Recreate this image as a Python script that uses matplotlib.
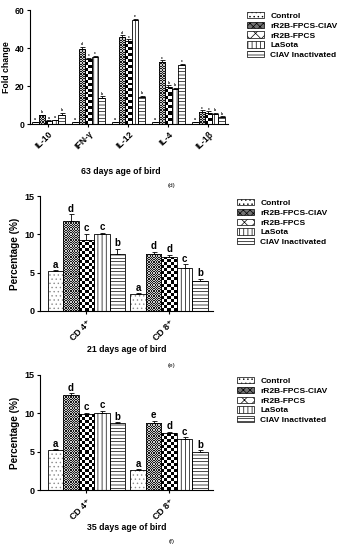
import numpy as np
import matplotlib
matplotlib.use("Agg")
import matplotlib.pyplot as plt
from matplotlib.patches import Patch

plt.rcParams['font.family'] = ['Liberation Sans', 'DejaVu Sans']
plt.rcParams['font.weight'] = 'bold'
plt.rcParams['hatch.linewidth'] = 0.5

groups = ['Control', 'rR2B-FPCS-CIAV', 'rR2B-FPCS', 'LaSota', 'CIAV Inactivated']

# panel (d): cytokine fold change, 63 days
cyto = ['IL-10', 'IFN-\u03b3', 'IL-12', 'IL-4', 'IL-1\u03b2']
fold = [[1, 4.5, 1.5, 2, 5],
        [1, 39.5, 34, 35.5, 13.5],
        [1, 46, 43.5, 54.5, 14],
        [1, 32.5, 19.5, 18.5, 31],
        [1, 6.5, 6, 5.5, 3.5]]
fold_err = [[0.2, 0.5, 0.5, 0.3, 0.8],
            [0.3, 1, 0.8, 0.5, 1],
            [0.3, 0.8, 1, 0.8, 0.8],
            [0.3, 1, 0.8, 0.5, 0.8],
            [0.2, 0.8, 0.6, 0.5, 0.5]]
fold_let = [['a', 'b', 'a', 'a', 'b'],
            ['a', 'd', 'c', 'c', 'b'],
            ['a', 'd', 'c', 'e', 'b'],
            ['a', 'c', 'b', 'b', 'c'],
            ['a', 'c', 'c', 'b', 'b']]

cells = ['CD 4$^{+}$', 'CD 8$^{+}$']
# panel (e): 21 days
pct21 = [[5.2, 11.8, 9.3, 10.0, 7.4],
         [2.2, 7.5, 7.1, 5.6, 3.9]]
err21 = [[0.1, 0.8, 0.8, 0.2, 0.7],
         [0.1, 0.2, 0.2, 0.5, 0.3]]
let21 = [['a', 'd', 'c', 'c', 'b'],
         ['a', 'd', 'd', 'c', 'b']]
# panel (f): 35 days
pct35 = [[5.2, 12.4, 9.9, 10.1, 8.7],
         [2.6, 8.8, 7.4, 6.6, 4.9]]
err35 = [[0.1, 0.2, 0.2, 0.2, 0.15],
         [0.1, 0.2, 0.2, 0.3, 0.3]]
let35 = [['a', 'd', 'c', 'c', 'b'],
         ['a', 'e', 'd', 'c', 'b']]

hatches = ['....', None, None, '||||', '-----']
hatch_col = ['0.55', 'black', 'black', 'black', 'black']
checker = [None, 1.2, 3.0, None, None]   # checker cell size in px


def draw_panel(ax, cats, vals, errs, lets, width, xlim, ylim, yticks, ylabel,
               fs_tick, fs_lab, fs_let):
    n = len(groups)
    x = np.arange(len(cats))
    ax.set_xlim(*xlim)
    ax.set_ylim(*ylim)
    bars_all = []
    for j in range(n):
        v = [row[j] for row in vals]
        e = [row[j] for row in errs]
        pos = x + (j - (n - 1) / 2) * width
        ax.bar(pos, v, width, color='white', edgecolor=hatch_col[j],
               linewidth=0, hatch=hatches[j], zorder=2)
        bars = ax.bar(pos, v, width, fill=False, edgecolor='black',
                      linewidth=0.6, zorder=2.7)
        ax.errorbar(pos, v, yerr=[np.zeros(len(v)), e], fmt='none',
                    ecolor='black', elinewidth=0.6, capsize=1.8,
                    capthick=0.6, zorder=3)
        for k in range(len(v)):
            ax.text(pos[k], v[k] + e[k] + (ylim[1] - ylim[0]) * 0.005,
                    lets[k][j], ha='center', va='bottom',
                    fontsize=fs_let, fontweight='bold')
        bars_all.append(bars)
    ax.figure.canvas.draw()
    for j in range(n):
        if checker[j] is None:
            continue
        for b in bars_all[j]:
            x0, y0 = b.get_x(), b.get_y()
            x1, y1 = x0 + b.get_width(), y0 + b.get_height()
            p0 = ax.transData.transform((x0, y0))
            p1 = ax.transData.transform((x1, y1))
            nx = max(1, int(round((p1[0] - p0[0]) / checker[j])))
            ny = max(1, int(round((p1[1] - p0[1]) / checker[j])))
            ii, jj = np.indices((ny, nx))
            img = ((ii + jj) % 2).astype(float)
            if j == 1:
                img = img * 0.7 + 0.1
            im = ax.imshow(img, cmap='gray', vmin=0, vmax=1, extent=(x0, x1, y0, y1),
                           aspect='auto', interpolation='nearest', zorder=2.5,
                           origin='lower')
            im.set_clip_path(b)
    ax.set_xlim(*xlim)
    ax.set_ylim(*ylim)
    ax.set_xticks(x)
    ax.set_xticklabels(cats, rotation=45, ha='right', rotation_mode='anchor',
                       fontsize=fs_tick, fontweight='bold')
    ax.set_yticks(yticks)
    ax.set_yticklabels([str(t) for t in yticks], fontsize=fs_tick, fontweight='bold')
    ax.set_ylabel(ylabel, fontsize=fs_lab, fontweight='bold', labelpad=3)
    for s in ['top', 'right']:
        ax.spines[s].set_visible(False)
    for s in ['left', 'bottom']:
        ax.spines[s].set_linewidth(0.8)
    ax.tick_params(width=0.8, length=2.5, pad=1.5)


def add_legend(fig, ax, x, y, fs):
    handles = []
    for j in range(len(groups)):
        if checker[j] == 1.2:
            h = Patch(facecolor='0.45', edgecolor='black', hatch='xxxxx', linewidth=0.5)
        elif checker[j] == 3.0:
            h = Patch(facecolor='white', edgecolor='black', hatch='xxx', linewidth=0.5)
        else:
            h = Patch(facecolor='white', edgecolor='black', hatch=hatches[j], linewidth=0.5)
        handles.append(h)
    ax.legend(handles, groups, loc='upper left', bbox_to_anchor=(x, y),
              bbox_transform=fig.transFigure, frameon=False,
              handlelength=2.0, handleheight=0.8, labelspacing=0.2,
              handletextpad=0.8, borderaxespad=0, borderpad=0,
              prop={'weight': 'bold', 'size': fs})


fig = plt.figure(figsize=(3.45, 5.5), dpi=100)
W, H = 345.0, 550.0

def box(l, t, r, b):
    return [l / W, 1 - b / H, (r - l) / W, (b - t) / H]

ax1 = fig.add_axes(box(30, 10, 228, 124))
draw_panel(ax1, cyto, fold, fold_err, fold_let, 0.165, (-0.46, 4.49), (0, 60),
           [0, 20, 40, 60], 'Fold change', 6.2, 6.3, 2.5)
add_legend(fig, ax1, 247 / W, 1 - 12 / H, 6)
fig.text(121 / W, 1 - 172 / H, '63 days age of bird', ha='center', va='center',
         fontsize=6.3, fontweight='bold')
fig.text(172 / W, 1 - 186 / H, '(d)', ha='center', va='center', fontsize=4.5,
         fontweight='normal')

ax2 = fig.add_axes(box(40, 196, 213, 311))
draw_panel(ax2, cells, pct21, err21, let21, 0.187, (-0.56, 1.53), (0, 15),
           [0, 5, 10, 15], 'Percentage (%)', 6.5, 7.2, 7)
add_legend(fig, ax2, 237 / W, 1 - 199 / H, 6)
fig.text(127 / W, 1 - 350 / H, '21 days age of bird', ha='center', va='center',
         fontsize=6.3, fontweight='bold')
fig.text(172 / W, 1 - 365 / H, '(e)', ha='center', va='center', fontsize=4.5,
         fontweight='normal')

ax3 = fig.add_axes(box(40, 375, 213, 490))
draw_panel(ax3, cells, pct35, err35, let35, 0.187, (-0.56, 1.53), (0, 15),
           [0, 5, 10, 15], 'Percentage (%)', 6.5, 7.2, 7)
add_legend(fig, ax3, 237 / W, 1 - 377 / H, 6)
fig.text(127 / W, 1 - 528 / H, '35 days age of bird', ha='center', va='center',
         fontsize=6.3, fontweight='bold')
fig.text(172 / W, 1 - 542 / H, '(f)', ha='center', va='center', fontsize=4.5,
         fontweight='normal')

fig.savefig('out.png', dpi=100)
